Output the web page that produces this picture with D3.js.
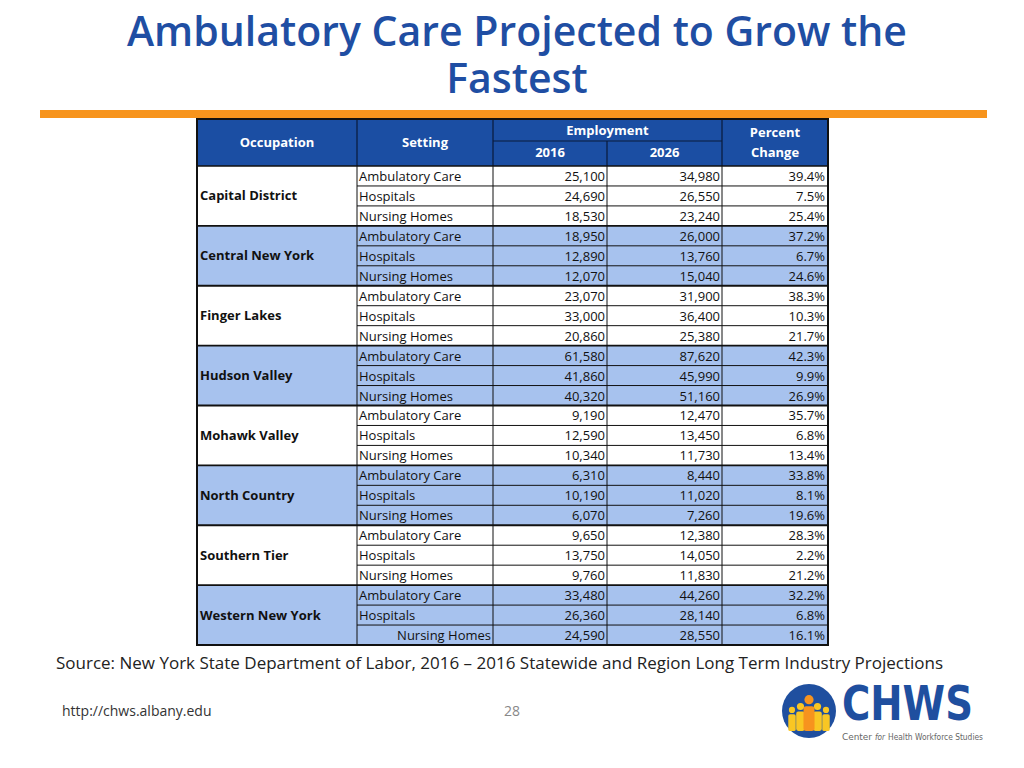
<!DOCTYPE html>
<html><head><meta charset="utf-8">
<script src="https://cdn.jsdelivr.net/npm/d3@7"></script>
<style>body{margin:0;background:#fff;} svg{display:block;}</style>
</head><body>
<svg id="c" width="1024" height="768"></svg>
<script>
const regions = ["Capital District","Central New York","Finger Lakes","Hudson Valley","Mohawk Valley","North Country","Southern Tier","Western New York"];
const settings = ["Ambulatory Care","Hospitals","Nursing Homes"];
const emp2016 = [25100,24690,18530, 18950,12890,12070, 23070,33000,20860, 61580,41860,40320, 9190,12590,10340, 6310,10190,6070, 9650,13750,9760, 33480,26360,24590];
const emp2026 = [34980,26550,23240, 26000,13760,15040, 31900,36400,25380, 87620,45990,51160, 12470,13450,11730, 8440,11020,7260, 12380,14050,11830, 44260,28140,28550];
const pctChange = [39.4,7.5,25.4, 37.2,6.7,24.6, 38.3,10.3,21.7, 42.3,9.9,26.9, 35.7,6.8,13.4, 33.8,8.1,19.6, 28.3,2.2,21.2, 32.2,6.8,16.1];
const headers = ["Occupation","Setting","Employment","2016","2026","Percent","Change"];
const titleLines = ["Ambulatory Care Projected to Grow the","Fastest"];

const svg = d3.select("#c");
const BLUE = "#1b4ea3", LIGHT = "#a7c2ee", TITLE = "#1f4ea3";
const font = "'Open Sans', sans-serif";

// title
const title = svg.append("text").attr("text-anchor","middle")
  .attr("font-family",font).attr("font-weight",600).attr("font-size",41).attr("fill",TITLE);
title.selectAll("tspan").data(titleLines).join("tspan")
  .attr("x",517).attr("y",(d,i)=>46+i*47).text(d=>d);
svg.append("rect").attr("x",40).attr("y",110).attr("width",947).attr("height",8).attr("fill","#f7941d");

// columns
const colX = [197,357,493,607,722,828];
const rows = [];
regions.forEach((r,i)=>settings.forEach((s,j)=>rows.push({region:r, ri:i, setting:s, k:i*3+j})));
const y = d3.scaleBand().domain(d3.range(rows.length)).range([166,645]);
const tTop = 119, hMid = 141, hBot = 166;
const FS = 13;

const g = svg.append("g");
// header
g.append("rect").attr("x",colX[0]).attr("y",tTop).attr("width",colX[5]-colX[0]).attr("height",hBot-tTop).attr("fill",BLUE);
// region backgrounds
g.selectAll("rect.reg").data(regions).join("rect").attr("class","reg")
  .attr("x",colX[0]).attr("y",(d,i)=>y(i*3)).attr("width",colX[5]-colX[0]).attr("height",y.bandwidth()*3)
  .attr("fill",(d,i)=>i%2?LIGHT:"#fff");

const line = (x1,y1,x2,y2,w,c)=>g.append("line").attr("x1",x1).attr("y1",y1).attr("x2",x2).attr("y2",y2)
  .attr("stroke",c||"#111").attr("stroke-width",w||1);
// header lines
[1,2,4].forEach(i=>line(colX[i],tTop,colX[i],hBot,1.2,"#0a1a3a"));
line(colX[3],hMid,colX[3],hBot,1.2,"#0a1a3a");
line(colX[2],hMid,colX[4],hMid,1.2,"#0a1a3a");
// body horizontal lines
rows.forEach((d,k)=>{
  if(k===0) return;
  const yy = y(k);
  if(k%3===0) line(colX[0],yy,colX[5],yy,1.8);
  else line(colX[1],yy,colX[5],yy,1);
});
line(colX[0],hBot,colX[5],hBot,1.5);
// body vertical lines
[1,2,3,4].forEach(i=>line(colX[i],hBot,colX[i],645,1));
// outer border
g.append("rect").attr("x",colX[0]).attr("y",tTop).attr("width",colX[5]-colX[0]).attr("height",645-tTop)
  .attr("fill","none").attr("stroke","#111").attr("stroke-width",2);

// header text
const ht = (t,x,yy)=>g.append("text").attr("x",x).attr("y",yy).attr("text-anchor","middle").attr("dominant-baseline","central")
  .attr("font-family",font).attr("font-weight",700).attr("font-size",FS).attr("fill","#fff").text(t);
ht(headers[0],(colX[0]+colX[1])/2,142);
ht(headers[1],(colX[1]+colX[2])/2,142);
ht(headers[2],(colX[2]+colX[4])/2,130);
ht(headers[3],(colX[2]+colX[3])/2,152);
ht(headers[4],(colX[3]+colX[4])/2,152);
ht(headers[5],(colX[4]+colX[5])/2,132);
ht(headers[6],(colX[4]+colX[5])/2,152);

// region labels
g.selectAll("text.reg").data(regions).join("text").attr("class","reg")
  .attr("x",colX[0]+3).attr("y",(d,i)=>y(i*3+1)+y.bandwidth()/2-0.5).attr("dominant-baseline","central")
  .attr("font-family",font).attr("font-weight",700).attr("font-size",FS).attr("fill","#111").text(d=>d);

const fmt = d3.format(",");
const cellText = (cls, xpos, anchor, fn)=>g.selectAll("text."+cls).data(rows).join("text").attr("class",cls)
  .attr("x",xpos).attr("y",d=>y(d.k)+y.bandwidth()/2).attr("dominant-baseline","central")
  .attr("text-anchor",anchor).attr("font-family",font).attr("font-size",FS).attr("fill","#111").text(fn);
// settings (last row right-aligned as in source)
g.selectAll("text.set").data(rows).join("text").attr("class","set")
  .attr("x",d=>d.k===rows.length-1?colX[2]-2:colX[1]+2)
  .attr("text-anchor",d=>d.k===rows.length-1?"end":"start")
  .attr("y",d=>y(d.k)+y.bandwidth()/2).attr("dominant-baseline","central")
  .attr("font-family",font).attr("font-size",FS).attr("fill","#111").text(d=>d.setting);
cellText("v16",colX[3]-2,"end",d=>fmt(emp2016[d.k]));
cellText("v26",colX[4]-2,"end",d=>fmt(emp2026[d.k]));
cellText("pc",colX[5]-3,"end",d=>pctChange[d.k].toFixed(1)+"%");

// source
svg.append("text").attr("x",56).attr("y",669).attr("font-family",font).attr("font-size",17).attr("fill","#222")
  .text("Source: New York State Department of Labor, 2016 \u2013 2016 Statewide and Region Long Term Industry Projections");
// footer
svg.append("text").attr("x",62).attr("y",716).attr("font-family",font).attr("font-size",14).attr("fill","#333").text("http://chws.albany.edu");
svg.append("text").attr("x",512).attr("y",716).attr("text-anchor","middle").attr("font-family",font).attr("font-size",14).attr("fill","#888").text("28");

// logo
const lg = svg.append("g");
const LBLUE = "#1f4f9f";
lg.append("circle").attr("cx",809).attr("cy",711).attr("r",27).attr("fill",LBLUE);
const people = [[-17,0.62,"#f9c623"],[-8.5,0.72,"#f9c623"],[8.5,0.72,"#f9c623"],[17,0.62,"#f9c623"],[0,0.92,"#f7931e"]];
people.forEach(([dx,s,c])=>{
  const cx=809+dx, base=731;
  lg.append("circle").attr("cx",cx).attr("cy",base-34*s).attr("r",5*s).attr("fill",c);
  lg.append("rect").attr("x",cx-6*s).attr("y",base-27*s).attr("width",12*s).attr("height",27*s).attr("rx",3*s).attr("fill",c);
});
const narrow = "'Liberation Sans Narrow','DejaVu Sans Condensed',sans-serif";
lg.append("text").attr("x",842).attr("y",720).attr("font-family",narrow)
  .attr("font-weight",700).attr("font-size",48).attr("fill",LBLUE).attr("textLength",131).attr("lengthAdjust","spacingAndGlyphs").text("CHWS");
lg.append("text").attr("x",842).attr("y",740).attr("font-family",narrow).attr("font-size",9.5).attr("fill","#666")
  .attr("textLength",30).attr("lengthAdjust","spacingAndGlyphs").text("Center");
lg.append("text").attr("x",875).attr("y",740).attr("font-family",narrow).attr("font-style","italic").attr("font-size",8).attr("fill","#666")
  .attr("textLength",10).attr("lengthAdjust","spacingAndGlyphs").text("for");
lg.append("text").attr("x",888).attr("y",740).attr("font-family",narrow).attr("font-size",9.5).attr("fill","#666")
  .attr("textLength",95).attr("lengthAdjust","spacingAndGlyphs").text("Health Workforce Studies");
</script>
</body></html>
